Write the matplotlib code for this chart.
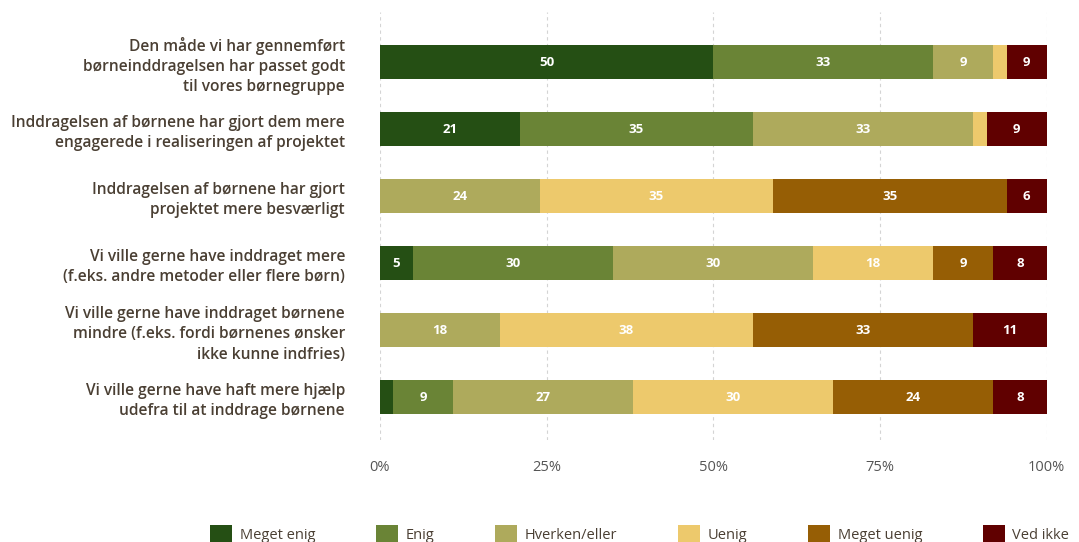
import matplotlib.pyplot as plt
import numpy as np

# Statements (top to bottom)
statements = [
    'Den måde vi har gennemført\nbørneinddragelsen har passet godt\ntil vores børnegruppe',
    'Inddragelsen af børnene har gjort dem mere\nengagerede i realiseringen af projektet',
    'Inddragelsen af børnene har gjort\nprojektet mere besværligt',
    'Vi ville gerne have inddraget mere\n(f.eks. andre metoder eller flere børn)',
    'Vi ville gerne have inddraget børnene\nmindre (f.eks. fordi børnenes ønsker\nikke kunne indfries)',
    'Vi ville gerne have haft mere hjælp\nudefra til at inddrage børnene',
]

categories = ['Meget enig', 'Enig', 'Hverken/eller', 'Uenig', 'Meget uenig', 'Ved ikke']
colors = ['#254f14', '#6a8436', '#aeaa5c', '#edc96c', '#965e05', '#600000']

# percent per category, one list per category (rows = statements)
meget_enig  = [50, 21, 0, 5, 0, 2]
enig        = [33, 35, 0, 30, 0, 9]
hverken     = [9, 33, 24, 30, 18, 27]
uenig       = [2, 2, 35, 18, 38, 30]
meget_uenig = [0, 0, 35, 9, 33, 24]
ved_ikke    = [6, 9, 6, 8, 11, 8]

# the source prints "9" on the first row's Ved ikke segment
label_fix = {(0, 5): '9'}

series = [meget_enig, enig, hverken, uenig, meget_uenig, ved_ikke]

plt.rcParams['font.family'] = ['Open Sans', 'DejaVu Sans']

fig = plt.figure(figsize=(10.79, 5.42), dpi=100)
ax = fig.add_axes([0.352, 0.188, 0.618, 0.790])

y = np.arange(len(statements))
left = np.zeros(len(statements))
for ci, (name, vals, col) in enumerate(zip(categories, series, colors)):
    vals = np.array(vals, dtype=float)
    ax.barh(y, vals, left=left, height=0.5, color=col, label=name, zorder=3)
    for ri, v in enumerate(vals):
        if v >= 4:
            txt = label_fix.get((ri, ci), f'{int(v)}')
            ax.text(left[ri] + v / 2, ri, txt, ha='center', va='center',
                    color='white', fontsize=9.5, fontweight='bold', zorder=4)
    left += vals

ax.set_xlim(0, 100)
ax.set_ylim(5.64, -0.75)
ax.set_xticks([0, 25, 50, 75, 100])
ax.set_xticklabels(['0%', '25%', '50%', '75%', '100%'], fontsize=10.5, color='#555555')
ax.set_yticks(y)
ax.set_yticklabels(statements, fontsize=11.2, color='#4a3f33', fontweight='semibold',
                   ha='right', linespacing=1.35)
ax.tick_params(axis='both', length=0)
ax.tick_params(axis='y', pad=25)
ax.tick_params(axis='x', pad=14)
for s in ax.spines.values():
    s.set_visible(False)
ax.grid(axis='x', color='#d4d4d4', linestyle=(0, (3, 3)), linewidth=0.8, zorder=0)

fig.legend(loc='lower center', bbox_to_anchor=(0.593, -0.015), ncol=6, frameon=False,
           fontsize=10.5, handlelength=1.5, handleheight=1.5, columnspacing=4.2,
           handletextpad=0.5, borderpad=0, labelcolor='#4a3f33')

fig.savefig('out.png', dpi=100)
